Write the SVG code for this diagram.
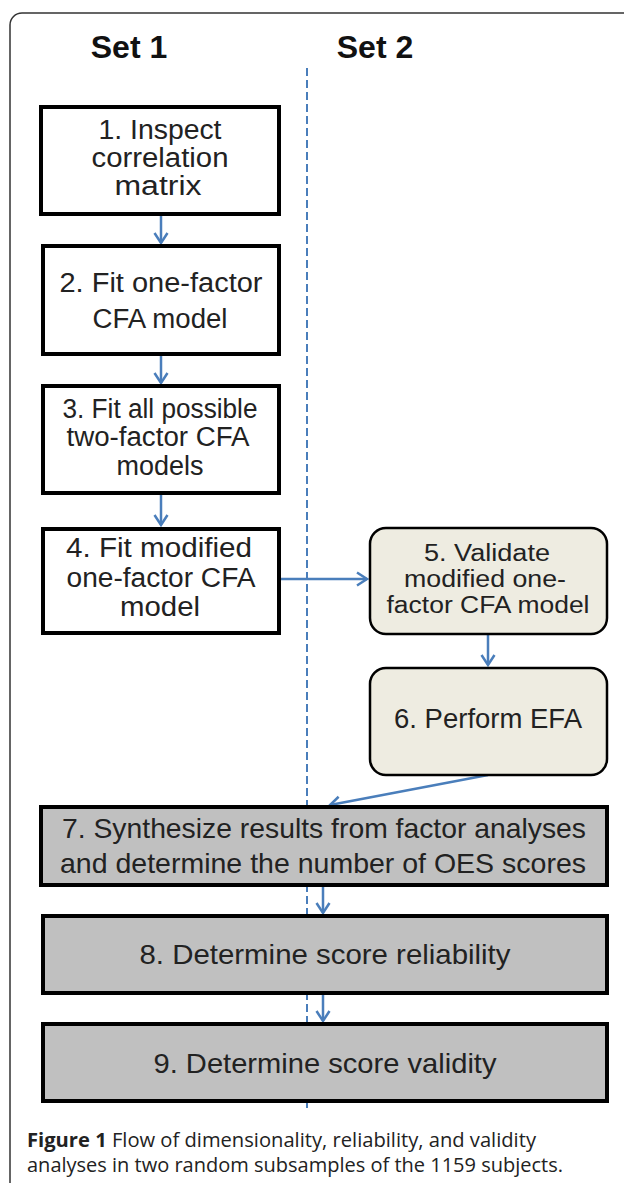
<svg xmlns="http://www.w3.org/2000/svg" width="624" height="1183" viewBox="0 0 624 1183">
<style>
.frame{fill:#fff;stroke:#333;stroke-width:1.5}
.head{font-family:"Liberation Sans",Arial,sans-serif;font-weight:bold;font-size:32px;fill:#111;text-anchor:middle}
.box{fill:#fff;stroke:#000;stroke-width:4}
.tan{fill:#eeece1;stroke:#000;stroke-width:2.5}
.gray{fill:#c0c0c0;stroke:#000;stroke-width:4}
.t{font-family:"Liberation Sans",Arial,sans-serif;font-size:27px;fill:#222;text-anchor:middle}
.t5{font-family:"Liberation Sans",Arial,sans-serif;font-size:23px;fill:#222;text-anchor:middle}
.tg{font-family:"Liberation Sans",Arial,sans-serif;font-size:28.5px;fill:#222;text-anchor:middle}
.cap{font-family:"Open Sans","Liberation Sans",sans-serif;font-size:20px;fill:#222}
.conn{stroke:#4a7ebb;stroke-width:2.5;fill:none}
.dash{stroke:#4a7ebb;stroke-width:2;stroke-dasharray:8 4;fill:none}
</style>
<defs>
<marker id="arr" markerUnits="userSpaceOnUse" markerWidth="16" markerHeight="16" refX="11" refY="8" orient="auto">
<path d="M1,1.5 L11,8 L1,14.5" fill="none" stroke="#4a7ebb" stroke-width="2.5"/>
</marker>
</defs>
<rect class="frame" x="10" y="13" width="640" height="1200" rx="12"/>
<text class="head" x="129" y="58">Set 1</text>
<text class="head" x="375" y="58">Set 2</text>
<line class="dash" x1="307" y1="68" x2="307" y2="1110"/>
<g id="connectors">
<line class="conn" x1="161" y1="215" x2="161" y2="243" marker-end="url(#arr)"/>
<line class="conn" x1="161" y1="355" x2="161" y2="383" marker-end="url(#arr)"/>
<line class="conn" x1="161" y1="494" x2="161" y2="525" marker-end="url(#arr)"/>
<line class="conn" x1="281" y1="579" x2="367" y2="579" marker-end="url(#arr)"/>
<line class="conn" x1="488" y1="634" x2="488" y2="665" marker-end="url(#arr)"/>
<line class="conn" x1="488" y1="775" x2="330" y2="805" marker-end="url(#arr)"/>
<line class="conn" x1="323" y1="886" x2="323" y2="913" marker-end="url(#arr)"/>
<line class="conn" x1="323" y1="994" x2="323" y2="1021" marker-end="url(#arr)"/>
</g>
<g id="node1">
<rect class="box" x="41" y="107" width="238" height="107"/>
<text class="t" x="160" y="139" textLength="123" lengthAdjust="spacingAndGlyphs">1. Inspect</text>
<text class="t" x="160" y="167" textLength="137" lengthAdjust="spacingAndGlyphs">correlation</text>
<text class="t" x="158" y="195" textLength="87" lengthAdjust="spacingAndGlyphs">matrix</text>
</g>
<g id="node2">
<rect class="box" x="43" y="246" width="236" height="108"/>
<text class="t" x="161" y="292" textLength="203" lengthAdjust="spacingAndGlyphs">2. Fit one-factor</text>
<text class="t" x="160" y="328" textLength="135" lengthAdjust="spacingAndGlyphs">CFA model</text>
</g>
<g id="node3">
<rect class="box" x="43" y="386" width="236" height="107"/>
<text class="t" x="160" y="418" textLength="195" lengthAdjust="spacingAndGlyphs">3. Fit all possible</text>
<text class="t" x="158" y="446" textLength="183" lengthAdjust="spacingAndGlyphs">two-factor CFA</text>
<text class="t" x="160" y="475" textLength="87" lengthAdjust="spacingAndGlyphs">models</text>
</g>
<g id="node4">
<rect class="box" x="43" y="529" width="236" height="104"/>
<text class="t" x="159" y="557" textLength="186" lengthAdjust="spacingAndGlyphs">4. Fit modified</text>
<text class="t" x="161" y="587" textLength="189" lengthAdjust="spacingAndGlyphs">one-factor CFA</text>
<text class="t" x="160" y="616" textLength="80" lengthAdjust="spacingAndGlyphs">model</text>
</g>
<g id="node5">
<rect class="tan" x="370" y="528" width="237" height="106" rx="16"/>
<text class="t5" x="487" y="561" textLength="126" lengthAdjust="spacingAndGlyphs">5. Validate</text>
<text class="t5" x="485" y="587" textLength="162" lengthAdjust="spacingAndGlyphs">modified one-</text>
<text class="t5" x="488" y="613" textLength="203" lengthAdjust="spacingAndGlyphs">factor CFA model</text>
</g>
<g id="node6">
<rect class="tan" x="370" y="668" width="237" height="107" rx="16"/>
<text class="t" x="488" y="728" textLength="188" lengthAdjust="spacingAndGlyphs">6. Perform EFA</text>
</g>
<g id="node7">
<rect class="gray" x="41" y="807" width="566" height="78"/>
<text class="tg" x="324" y="838" textLength="524" lengthAdjust="spacingAndGlyphs">7. Synthesize results from factor analyses</text>
<text class="tg" x="323" y="873" textLength="526" lengthAdjust="spacingAndGlyphs">and determine the number of OES scores</text>
</g>
<g id="node8">
<rect class="gray" x="43" y="916" width="564" height="77"/>
<text class="tg" x="325" y="964" textLength="371" lengthAdjust="spacingAndGlyphs">8. Determine score reliability</text>
</g>
<g id="node9">
<rect class="gray" x="43" y="1024" width="564" height="77"/>
<text class="tg" x="325" y="1073" textLength="343" lengthAdjust="spacingAndGlyphs">9. Determine score validity</text>
</g>
<text class="cap" x="27" y="1147" textLength="509" lengthAdjust="spacingAndGlyphs"><tspan font-weight="bold">Figure 1</tspan> Flow of dimensionality, reliability, and validity</text>
<text class="cap" x="27" y="1172" textLength="536" lengthAdjust="spacingAndGlyphs">analyses in two random subsamples of the 1159 subjects.</text>
</svg>
